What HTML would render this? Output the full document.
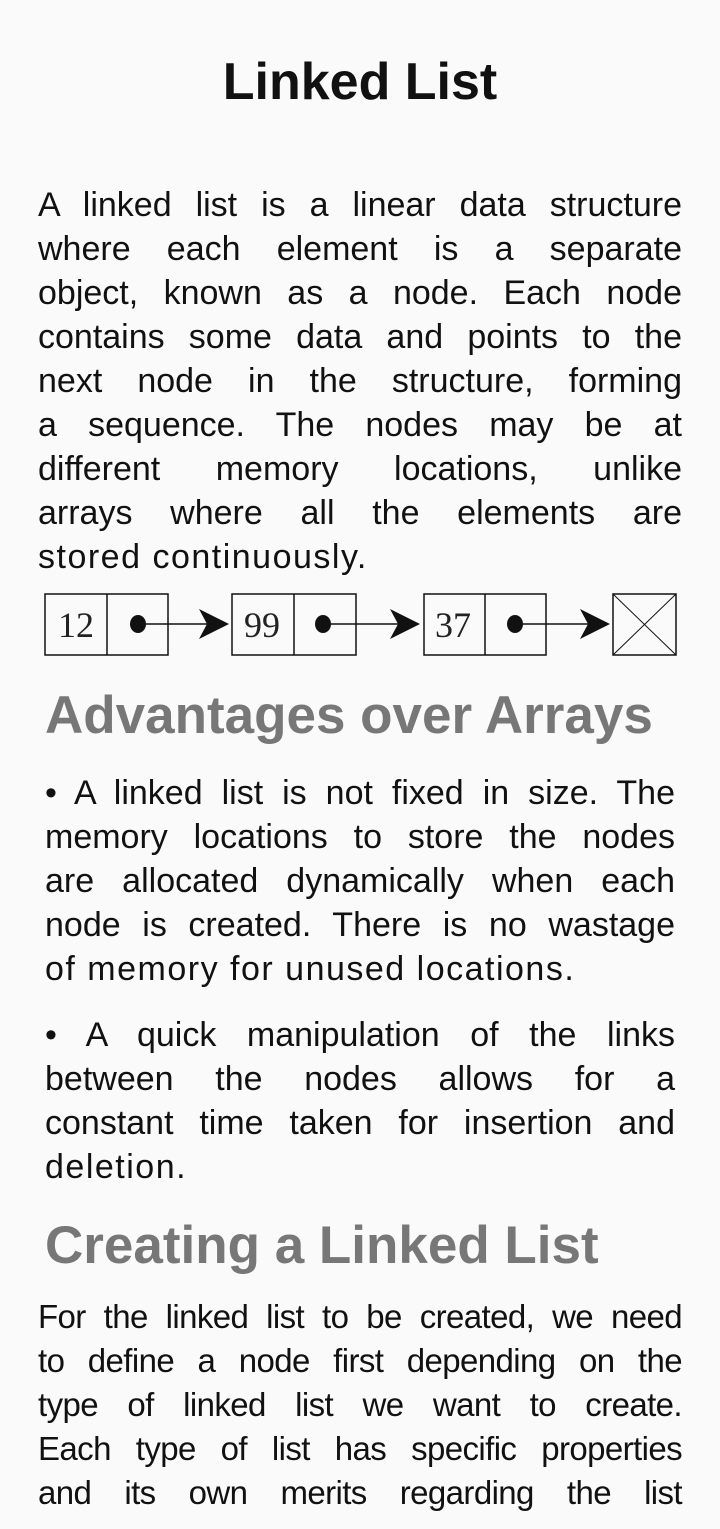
<!DOCTYPE html>
<html><head><meta charset="utf-8">
<style>
html,body{margin:0;padding:0;background:#fafafa;}
body{width:720px;height:1529px;position:relative;overflow:hidden;font-family:"Liberation Sans",Arial,sans-serif;color:#111;}
.l{position:absolute;height:44px;line-height:44px;font-size:34px;white-space:nowrap;text-align:justify;text-align-last:justify;}
.a{left:38px;width:644px;}
.b{left:45px;width:630px;}
.e{text-align-last:left;letter-spacing:1.5px;}
.t{font-size:33px;letter-spacing:-0.6px;}
.h{position:absolute;left:45px;font-weight:bold;font-size:53px;color:#777;line-height:60px;white-space:nowrap;}
</style></head><body>
<div style="position:absolute;left:0;width:720px;top:52px;text-align:center;font-weight:bold;font-size:52px;line-height:60px;">Linked List</div>

<div class="l a" style="top:183px">A linked list is a linear data structure</div>
<div class="l a" style="top:227px">where each element is a separate</div>
<div class="l a" style="top:271px">object, known as a node. Each node</div>
<div class="l a" style="top:315px">contains some data and points to the</div>
<div class="l a" style="top:359px">next node in the structure, forming</div>
<div class="l a" style="top:403px">a sequence. The nodes may be at</div>
<div class="l a" style="top:447px">different memory locations, unlike</div>
<div class="l a" style="top:491px">arrays where all the elements are</div>
<div class="l a e" style="top:535px">stored continuously.</div>

<svg style="position:absolute;left:0;top:580px" width="720" height="90" viewBox="0 580 720 90">
<g fill="none" stroke="#111" stroke-width="1.5">
<rect x="45" y="594" width="123" height="61"/><line x1="107" y1="594" x2="107" y2="655"/>
<rect x="232" y="594" width="124" height="61"/><line x1="294" y1="594" x2="294" y2="655"/>
<rect x="424" y="594" width="122" height="61"/><line x1="485" y1="594" x2="485" y2="655"/>
<rect x="613" y="594" width="63" height="61"/>
<line x1="613" y1="594" x2="676" y2="655" stroke-width="1"/><line x1="676" y1="594" x2="613" y2="655" stroke-width="1"/>
<line x1="138" y1="624" x2="215" y2="624"/>
<line x1="323" y1="624" x2="405" y2="624"/>
<line x1="515" y1="624" x2="595" y2="624"/>
</g>
<g fill="#111">
<ellipse cx="138" cy="624" rx="8" ry="9"/><ellipse cx="323" cy="624" rx="8" ry="9"/><ellipse cx="515" cy="624" rx="8" ry="9"/>
<path d="M199 609 L229 624 L199 639 L207 624Z"/>
<path d="M390 609 L420 624 L390 639 L398 624Z"/>
<path d="M580 609 L610 624 L580 639 L588 624Z"/>
</g>
<g font-family="Liberation Serif,serif" font-size="36" fill="#222">
<text x="58" y="637">12</text><text x="244" y="637">99</text><text x="435" y="637">37</text>
</g>
</svg>

<div class="h" style="top:686px">Advantages over Arrays</div>

<div class="l b" style="top:771px">• A linked list is not fixed in size. The</div>
<div class="l b" style="top:815px">memory locations to store the nodes</div>
<div class="l b" style="top:859px">are allocated dynamically when each</div>
<div class="l b" style="top:903px">node is created. There is no wastage</div>
<div class="l b e" style="top:947px">of memory for unused locations.</div>

<div class="l b" style="top:1013px">• A quick manipulation of the links</div>
<div class="l b" style="top:1057px">between the nodes allows for a</div>
<div class="l b" style="top:1101px">constant time taken for insertion and</div>
<div class="l b e" style="top:1145px">deletion.</div>

<div class="h" style="top:1216px">Creating a Linked List</div>

<div class="l a t" style="top:1295px">For the linked list to be created, we need</div>
<div class="l a t" style="top:1339px">to define a node first depending on the</div>
<div class="l a t" style="top:1383px">type of linked list we want to create.</div>
<div class="l a t" style="top:1427px">Each type of list has specific properties</div>
<div class="l a t" style="top:1471px">and its own merits regarding the list</div>
</body></html>
